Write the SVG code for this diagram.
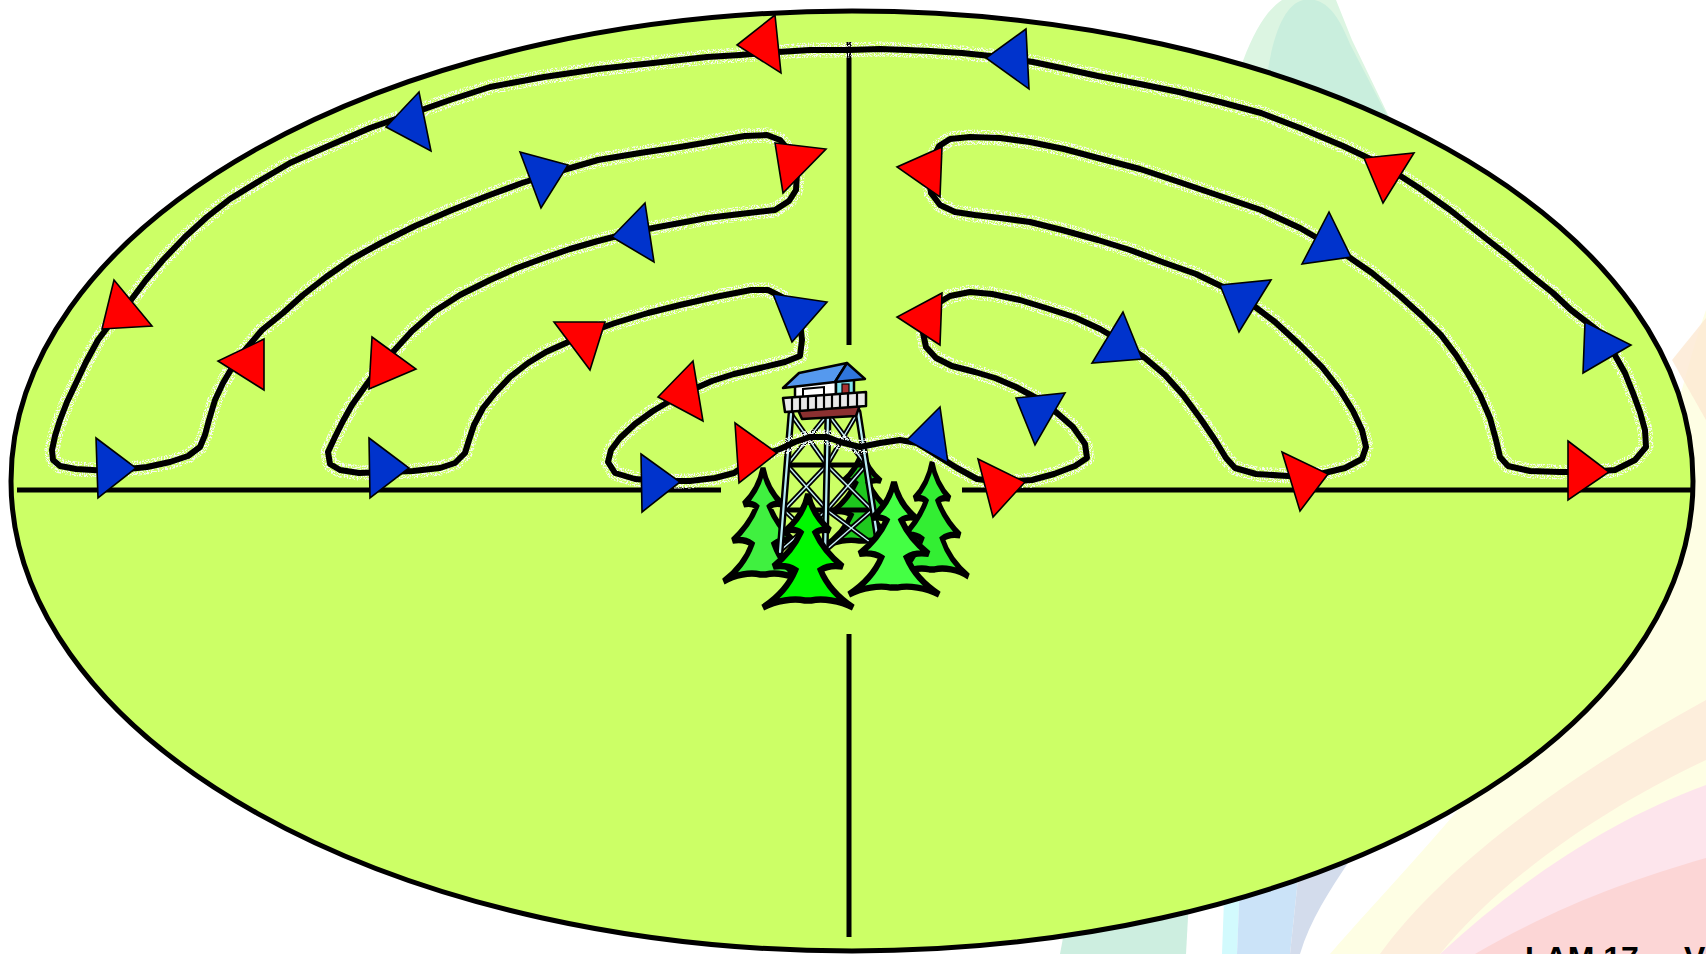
<svg xmlns="http://www.w3.org/2000/svg" xmlns:xlink="http://www.w3.org/1999/xlink" width="1706" height="954" viewBox="0 0 1706 954">
  <style>
    .rim { fill: #ccff66; stroke: #000; stroke-width: 5; }
    .axis { stroke: #000; stroke-width: 5; fill: none; }
    .track { fill: none; stroke: #000; stroke-width: 6; stroke-linejoin: round; stroke-linecap: round; }
    .halo { fill: none; stroke: #fff; stroke-width: 15; stroke-linejoin: round; stroke-linecap: round; }
    .red { fill: #ff0000; stroke: #000; stroke-width: 1.6; stroke-linejoin: miter; }
    .blue { fill: #0033cc; stroke: #000; stroke-width: 1.6; stroke-linejoin: miter; }
    .pine { stroke: #000; stroke-width: 5.5; stroke-linejoin: miter; }
    .legO { stroke: #000; stroke-width: 7; stroke-linecap: round; }
    .legI { stroke: #b8ecf4; stroke-width: 2.2; stroke-linecap: round; }
    .brO { stroke: #000; stroke-width: 5; }
    .brI { stroke: #c8f0f8; stroke-width: 1.4; }
    .ink { stroke: #000; stroke-width: 2.5; stroke-linejoin: round; }
    .label { font-family: "Liberation Sans", Arial, sans-serif; font-weight: bold; font-size: 32px; fill: #000; }
  </style>
  <defs>
    <!-- grainy white speckle used around the hand-drawn track -->
    <filter id="speckle" x="-2%" y="-5%" width="104%" height="110%">
      <feTurbulence type="fractalNoise" baseFrequency="0.7" numOctaves="2" seed="4" result="noise"/>
      <feColorMatrix in="noise" type="matrix" values="0 0 0 0 0.94  0 0 0 0 0.95  0 0 0 0 0.9  0 0 0 9 -4.2" result="dots"/>
      <feComposite in="dots" in2="SourceGraphic" operator="in"/>
    </filter>
    <!-- pine tree silhouette, top at origin -->
    <path id="pineShape" d="M0,0 C3,12 9,22 21,31 C15,30 11,30 7,33 C13,45 22,54 33,62 C25,61 17,62 12,65 C18,78 28,88 43,97 C30,91 14,89 3,91 L-3,91 C-14,89 -30,91 -43,97 C-28,88 -18,78 -12,65 C-17,62 -25,61 -33,62 C-22,54 -13,45 -7,33 C-11,30 -15,30 -21,31 C-9,22 -3,12 0,0 Z"/>
    <!-- closed search loop: outer arcs, hairpin turns, passing through the tower -->
    <path id="loop" d="M849,50 L810,50 L778,52 L740,55 L707,57 L653,63 L598,69 L544,77 L490,87 L450,100 L413,113 L370,128 L326,147 L290,163 L261,180 L230,199 L207,217 L185,237 L163,260 L146,280 L131,300 L113,320 L98,340 L86,362 L76,383 L67,402 L60,420 L55,436 L52,450 L53,460 L60,466 L76,469 L109,471 L147,467 L170,462 L188,456 L200,447 L205,435 L209,420 L215,400 L223,383 L233,366 L245,350 L262,330 L283,313 L303,295 L326,277 L352,259 L381,243 L415,226 L452,210 L487,196 L522,183 L560,171 L598,160 L640,153 L680,147 L715,141 L745,136 L767,135 L780,140 L790,152 L797,173 L796,190 L789,201 L775,210 L740,214 L707,218 L680,223 L653,228 L625,234 L598,241 L570,249 L544,258 L517,268 L490,280 L460,295 L435,311 L412,331 L392,353 L377,370 L364,388 L352,405 L343,421 L335,437 L328,452 L330,464 L340,470 L359,473 L385,472 L413,471 L440,468 L455,463 L465,453 L469,440 L474,425 L483,408 L495,393 L510,377 L528,363 L546,352 L566,343 L590,332 L615,323 L648,313 L680,305 L715,297 L751,290 L768,290 L782,297 L794,308 L800,322 L802,340 L800,356 L785,362 L760,368 L734,374 L712,381 L696,388 L675,398 L653,411 L635,424 L620,438 L611,450 L608,462 L615,473 L635,479 L660,481 L690,481 L715,478 L734,473 L750,462 L765,454 L780,449 L795,442 L810,437 L827,437 L840,442 L860,447 L880,443 L900,440 L917,443 L933,453 L957,468 L977,479 L1000,482 L1032,480 L1054,474 L1075,466 L1087,458 L1085,444 L1073,427 L1057,413 L1040,400 L1016,387 L995,378 L975,372 L952,366 L936,358 L926,347 L923,333 L926,318 L935,305 L950,296 L970,292 L992,294 L1020,300 L1046,308 L1074,317 L1100,329 L1122,342 L1145,358 L1165,375 L1183,395 L1200,418 L1215,440 L1226,458 L1235,468 L1256,474 L1288,476 L1320,474 L1345,468 L1362,459 L1366,447 L1362,430 L1353,411 L1340,390 L1322,367 L1299,344 L1275,322 L1250,303 L1225,288 L1196,274 L1165,263 L1130,250 L1098,240 L1062,230 L1030,222 L1000,218 L975,215 L955,212 L940,205 L931,193 L929,178 L932,160 L939,146 L950,139 L970,137 L1000,138 L1030,142 L1064,149 L1098,158 L1140,169 L1179,182 L1220,196 L1261,210 L1300,228 L1343,253 L1372,273 L1400,296 L1422,316 L1441,335 L1456,355 L1468,374 L1480,395 L1490,418 L1496,440 L1500,457 L1508,466 L1530,471 L1560,472 L1590,472 L1615,470 L1635,460 L1646,447 L1645,430 L1640,412 L1633,393 L1625,373 L1612,350 L1597,330 L1571,310 L1553,293 L1533,277 L1507,255 L1479,233 L1450,210 L1419,188 L1385,166 L1343,146 L1300,128 L1261,113 L1220,102 L1179,92 L1140,84 L1098,76 L1066,69 L1033,62 L1000,57 L962,53 L930,51 L907,50 L880,49 Z"/>
  </defs>

  <rect width="1706" height="954" fill="#ffffff"/>

  <!-- pale background swooshes -->
  <g id="backdrop">
    <path d="M1222,140 C1236,70 1255,18 1282,0 L1336,0 L1352,40 L1405,150 Z" fill="#dcf5e2"/>
    <path d="M1262,140 C1264,60 1278,6 1303,0 C1325,-4 1338,14 1350,44 L1405,150 Z" fill="#c9eedd"/>
    <path d="M1706,310 L1706,954 L1330,954 C1420,850 1560,720 1650,500 C1670,440 1688,360 1706,310 Z" fill="#fefee4"/>
    <path d="M1672,360 L1706,318 L1706,420 Z" fill="#fde9d2" opacity="0.8"/>
    <path d="M1060,954 L1070,900 L1190,880 L1186,954 Z" fill="#cdeee0"/>
    <path d="M1222,954 L1224,900 L1240,880 L1237,954 Z" fill="#d2fafd"/>
    <path d="M1237,954 L1240,880 L1300,860 L1290,954 Z" fill="#cbe3f8"/>
    <path d="M1290,954 L1300,860 L1350,860 C1330,890 1310,920 1300,954 Z" fill="#d3dcec"/>
    <path d="M1380,954 C1440,870 1560,780 1706,700 L1706,760 C1600,810 1500,880 1440,954 Z" fill="#fdeedc"/>
    <path d="M1440,954 C1520,880 1610,820 1706,785 L1706,954 Z" fill="#fde5ec"/>
    <path d="M1475,954 C1560,905 1630,880 1706,858 L1706,954 Z" fill="#fcd6d6"/>
  </g>

  <!-- the field -->
  <g id="field">
    <ellipse class="rim" cx="852" cy="481" rx="841" ry="470"/>
    <line class="axis" x1="17" y1="490" x2="721" y2="490"/>
    <line class="axis" x1="962" y1="490" x2="1695" y2="490"/>
    <line class="axis" x1="849" y1="42" x2="849" y2="345"/>
    <line class="axis" x1="849" y1="634" x2="849" y2="937"/>
  </g>

  <!-- trees standing behind the tower -->
  <g id="trees-back">
    <use href="#pineShape" class="pine" fill="#1ec81e" transform="translate(862,450) scale(0.9,1.0)"/>
    <use href="#pineShape" class="pine" fill="#40f040" transform="translate(763,468) scale(0.92,1.17)"/>
    <use href="#pineShape" class="pine" fill="#33ee33" transform="translate(932,462) scale(0.85,1.18)"/>
  </g>

  <!-- lookout tower -->
  <g id="tower">
    <g class="brO">
      <line x1="791" y1="414" x2="827" y2="465"/><line x1="828" y1="414" x2="787" y2="465"/>
      <line x1="787" y1="465" x2="827" y2="510"/><line x1="827" y1="465" x2="784" y2="510"/>
      <line x1="784" y1="510" x2="826" y2="550"/><line x1="827" y1="510" x2="781" y2="550"/>
      <line x1="828" y1="414" x2="866" y2="465"/><line x1="858" y1="412" x2="827" y2="465"/>
      <line x1="827" y1="465" x2="872" y2="510"/><line x1="866" y1="465" x2="827" y2="510"/>
      <line x1="827" y1="510" x2="878" y2="548"/><line x1="872" y1="510" x2="826" y2="550"/>
      <line x1="787" y1="465" x2="866" y2="465"/><line x1="784" y1="510" x2="872" y2="510"/>
    </g>
    <g class="brI">
      <line x1="791" y1="414" x2="827" y2="465"/><line x1="828" y1="414" x2="787" y2="465"/>
      <line x1="787" y1="465" x2="827" y2="510"/><line x1="827" y1="465" x2="784" y2="510"/>
      <line x1="784" y1="510" x2="826" y2="550"/><line x1="827" y1="510" x2="781" y2="550"/>
      <line x1="828" y1="414" x2="866" y2="465"/><line x1="858" y1="412" x2="827" y2="465"/>
      <line x1="827" y1="465" x2="872" y2="510"/><line x1="866" y1="465" x2="827" y2="510"/>
      <line x1="827" y1="510" x2="878" y2="548"/><line x1="872" y1="510" x2="826" y2="550"/>
    </g>
    <line class="legO" x1="791" y1="414" x2="780" y2="552"/>
    <line class="legO" x1="828" y1="414" x2="825" y2="556"/>
    <line class="legO" x1="858" y1="412" x2="879" y2="548"/>
    <line class="legI" x1="791" y1="414" x2="780" y2="552"/>
    <line class="legI" x1="828" y1="414" x2="825" y2="556"/>
    <line class="legI" x1="858" y1="412" x2="879" y2="548"/>
    <polygon class="ink" points="798,410 860,405 856,416 802,419" fill="#8b3030"/>
    <polygon class="ink" points="795,386 836,381 836,400 795,402" fill="#ffffff"/>
    <polygon class="ink" points="836,381 854,377 854,396 836,400" fill="#80e4f0"/>
    <rect x="842" y="384" width="7" height="12" fill="#a83232" stroke="#000" stroke-width="1.2"/>
    <polyline points="803,399 803,389 824,387 824,397" fill="none" stroke="#000" stroke-width="2"/>
    <polygon class="ink" points="783,398 866,392 866,406 785,412" fill="#e8e8e8"/>
    <g stroke="#000" stroke-width="2.2">
      <line x1="792" y1="398" x2="792" y2="411"/><line x1="800" y1="397" x2="800" y2="411"/>
      <line x1="808" y1="397" x2="808" y2="410"/><line x1="816" y1="396" x2="816" y2="410"/>
      <line x1="824" y1="396" x2="824" y2="409"/><line x1="832" y1="395" x2="832" y2="409"/>
      <line x1="840" y1="394" x2="840" y2="408"/><line x1="848" y1="394" x2="848" y2="407"/>
      <line x1="857" y1="393" x2="857" y2="407"/>
    </g>
    <polygon class="ink" points="783,388 799,373 847,363 835,382" fill="#5599ee"/>
    <polygon class="ink" points="835,382 847,363 865,379" fill="#2f75dc"/>
  </g>

  <!-- trees in front of the tower -->
  <g id="trees-front">
    <use href="#pineShape" class="pine" fill="#00f800" transform="translate(808,494) scale(1.05,1.17)"/>
    <use href="#pineShape" class="pine" fill="#44ff44" transform="translate(894,482) scale(1.05,1.16)"/>
  </g>

  <!-- search track -->
  <g id="connectors">
    <use href="#loop" class="halo" filter="url(#speckle)"/>
    <use href="#loop" class="track"/>
  </g>

  <!-- direction markers -->
  <g id="markers">
    <polygon class="red" points="775,15 737,45 781,73"/>
    <polygon class="blue" points="419,92 386,127 431,151"/>
    <polygon class="blue" points="520,152 568,165 541,208"/>
    <polygon class="red" points="775,143 826,149 783,193"/>
    <polygon class="blue" points="645,203 612,237 654,262"/>
    <polygon class="red" points="114,280 152,326 102,329"/>
    <polygon class="red" points="264,339 218,361 264,390"/>
    <polygon class="red" points="372,337 416,369 369,389"/>
    <polygon class="red" points="554,322 605,322 590,370"/>
    <polygon class="blue" points="773,294 827,302 792,342"/>
    <polygon class="red" points="693,361 658,397 703,421"/>
    <polygon class="blue" points="96,438 136,468 98,498"/>
    <polygon class="blue" points="369,438 409,468 370,498"/>
    <polygon class="blue" points="641,454 680,482 642,512"/>
    <polygon class="red" points="735,423 777,453 739,483"/>
    <polygon class="blue" points="1026,29 986,58 1029,89"/>
    <polygon class="red" points="1364,158 1414,153 1383,203"/>
    <polygon class="red" points="942,147 897,167 940,197"/>
    <polygon class="blue" points="1329,212 1302,264 1351,257"/>
    <polygon class="blue" points="1220,285 1271,280 1239,332"/>
    <polygon class="red" points="942,293 897,317 940,345"/>
    <polygon class="blue" points="1123,312 1092,363 1142,359"/>
    <polygon class="blue" points="1585,322 1631,345 1583,373"/>
    <polygon class="blue" points="1016,398 1065,393 1035,445"/>
    <polygon class="blue" points="940,407 907,440 948,463"/>
    <polygon class="red" points="978,459 1025,482 993,517"/>
    <polygon class="red" points="1282,452 1328,474 1300,511"/>
    <polygon class="red" points="1568,441 1609,472 1568,500"/>
  </g>

  <text class="label" x="1525" y="969">LAM 17 -<tspan x="1684">V</tspan></text>
</svg>
